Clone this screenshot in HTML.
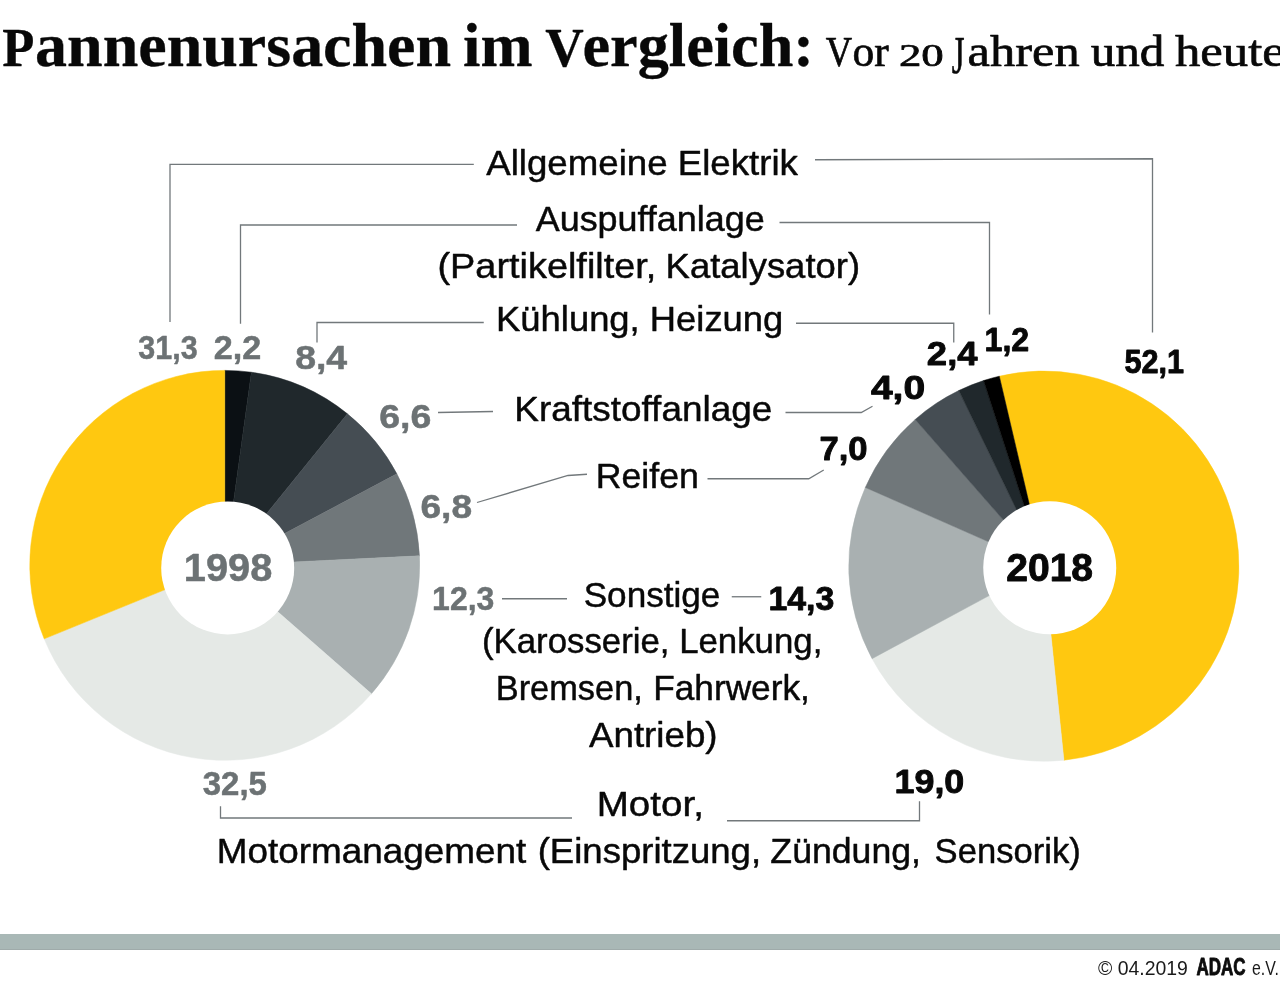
<!DOCTYPE html>
<html lang="de">
<head>
<meta charset="utf-8">
<title>Pannenursachen im Vergleich</title>
<style>
html,body{margin:0;padding:0;background:#fff;}
body{width:1280px;height:988px;overflow:hidden;font-family:"Liberation Sans",sans-serif;}
svg{display:block;will-change:transform;}
.ss{font-family:"Liberation Sans",sans-serif;}
.sf{font-family:"Liberation Serif",serif;}
text{white-space:pre;}
</style>
</head>
<body>
<svg width="1280" height="988" viewBox="0 0 1280 988">
<rect x="0" y="0" width="1280" height="988" fill="#ffffff"/>
<!-- footer bar -->
<rect x="0" y="934" width="1280" height="16" fill="#a9b8b6"/>
<rect x="0" y="949" width="1280" height="1" fill="#9fabaa"/>
<!-- donut 1998 -->
<g>
<path d="M224.75,565.35 L224.75,370.40 A194.95,194.95 0 0 1 251.38,372.23 Z" fill="#0b1014" stroke="#0b1014" stroke-width="0.5"/>
<path d="M224.75,565.35 L251.38,372.23 A194.95,194.95 0 0 1 347.44,413.85 Z" fill="#20282c" stroke="#20282c" stroke-width="0.5"/>
<path d="M224.75,565.35 L347.44,413.85 A194.95,194.95 0 0 1 396.88,473.83 Z" fill="#454d53" stroke="#454d53" stroke-width="0.5"/>
<path d="M224.75,565.35 L396.88,473.83 A194.95,194.95 0 0 1 419.47,555.83 Z" fill="#70777a" stroke="#70777a" stroke-width="0.5"/>
<path d="M224.75,565.35 L419.47,555.83 A194.95,194.95 0 0 1 371.43,693.76 Z" fill="#a9b0b1" stroke="#a9b0b1" stroke-width="0.5"/>
<path d="M224.75,565.35 L371.43,693.76 A194.95,194.95 0 0 1 44.19,638.85 Z" fill="#e5e9e6" stroke="#e5e9e6" stroke-width="0.5"/>
<path d="M224.75,565.35 L44.19,638.85 A194.95,194.95 0 0 1 224.75,370.40 Z" fill="#ffc810" stroke="#ffc810" stroke-width="0.5"/>
<circle cx="227.7" cy="567.9" r="66.5" fill="#fff"/>
</g>
<!-- donut 2018 -->
<g>
<path d="M1043.85,566.15 L999.30,376.20 A195.10,195.10 0 1 1 1063.90,760.22 Z" fill="#ffc810" stroke="#ffc810" stroke-width="0.5"/>
<path d="M1043.85,566.15 L1063.90,760.22 A195.10,195.10 0 0 1 872.07,658.64 Z" fill="#e5e9e6" stroke="#e5e9e6" stroke-width="0.5"/>
<path d="M1043.85,566.15 L872.07,658.64 A195.10,195.10 0 0 1 865.34,487.42 Z" fill="#a9b0b1" stroke="#a9b0b1" stroke-width="0.5"/>
<path d="M1043.85,566.15 L865.34,487.42 A195.10,195.10 0 0 1 915.21,419.47 Z" fill="#70777a" stroke="#70777a" stroke-width="0.5"/>
<path d="M1043.85,566.15 L915.21,419.47 A195.10,195.10 0 0 1 958.78,390.57 Z" fill="#454d53" stroke="#454d53" stroke-width="0.5"/>
<path d="M1043.85,566.15 L958.78,390.57 A195.10,195.10 0 0 1 983.56,380.60 Z" fill="#20282c" stroke="#20282c" stroke-width="0.5"/>
<path d="M1043.85,566.15 L983.56,380.60 A195.10,195.10 0 0 1 999.30,376.20 Z" fill="#000000" stroke="#000000" stroke-width="0.5"/>
<circle cx="1049.75" cy="567.75" r="66.5" fill="#fff"/>
</g>
<!-- connector lines -->
<g fill="none" stroke="#72787b" stroke-width="1.3">
<path d="M170,322 V164.3 H473.8"/>
<path d="M240.5,323.7 V225 H517"/>
<path d="M317,342.5 V322.5 H483.75"/>
<path d="M815,159.75 L1152.5,158.75 V332.5"/>
<path d="M779.5,222.5 H989.5 V314.5"/>
<path d="M796,323.25 H953.75 V342.5"/>
<path d="M438,412.5 L493,411.5"/>
<path d="M785.5,412.5 H861.25 L872.5,406.25"/>
<path d="M477,502.5 L568,475.5 L587,474.25"/>
<path d="M707.5,478.75 H808.75 L823.75,470"/>
<path d="M502,598.75 H567"/>
<path d="M731.75,596.75 H761.25"/>
<path d="M220.5,806.25 V818 H572"/>
<path d="M727,820.75 H919.5 V801.25"/>
</g>
<!-- texts -->
<g>
<text class="sf" x="2.15" y="66.00" font-size="55.8" font-weight="bold" fill="#080808" textLength="32.12" lengthAdjust="spacingAndGlyphs" stroke="#080808" stroke-width="0.3" stroke-linejoin="round">P</text>
<text class="sf" x="35.10" y="66.00" font-size="60.8" font-weight="bold" fill="#080808" textLength="416.01" lengthAdjust="spacingAndGlyphs" stroke="#080808" stroke-width="0.3" stroke-linejoin="round">annenursachen</text>
<text class="sf" x="463.02" y="66.00" font-size="60.8" font-weight="bold" fill="#080808" textLength="69.49" lengthAdjust="spacingAndGlyphs" stroke="#080808" stroke-width="0.3" stroke-linejoin="round">im</text>
<text class="sf" x="545.15" y="66.00" font-size="55.8" font-weight="bold" fill="#080808" textLength="38.48" lengthAdjust="spacingAndGlyphs" stroke="#080808" stroke-width="0.3" stroke-linejoin="round">V</text>
<text class="sf" x="582.40" y="66.00" font-size="60.8" font-weight="bold" fill="#080808" textLength="231.72" lengthAdjust="spacingAndGlyphs" stroke="#080808" stroke-width="0.3" stroke-linejoin="round">ergleich:</text>
<text class="sf" x="825.75" y="66.20" font-size="42.0" fill="#080808" textLength="26.39" lengthAdjust="spacingAndGlyphs" stroke="#080808" stroke-width="0.7" stroke-linejoin="round">V</text>
<text class="sf" x="852.48" y="66.20" font-size="45.0" fill="#080808" textLength="36.25" lengthAdjust="spacingAndGlyphs" stroke="#080808" stroke-width="0.7" stroke-linejoin="round">or</text>
<text class="sf" x="898.95" y="66.20" font-size="31.9" fill="#080808" textLength="44.78" lengthAdjust="spacingAndGlyphs" stroke="#080808" stroke-width="0.7" stroke-linejoin="round">20</text>
<text class="sf" x="951.72" y="72.90" font-size="52.0" fill="#080808" textLength="12.78" lengthAdjust="spacingAndGlyphs" stroke="#080808" stroke-width="0.7" stroke-linejoin="round">J</text>
<text class="sf" x="967.63" y="66.20" font-size="45.0" fill="#080808" textLength="111.98" lengthAdjust="spacingAndGlyphs" stroke="#080808" stroke-width="0.7" stroke-linejoin="round">ahren</text>
<text class="sf" x="1090.65" y="66.20" font-size="45.0" fill="#080808" textLength="73.65" lengthAdjust="spacingAndGlyphs" stroke="#080808" stroke-width="0.7" stroke-linejoin="round">und</text>
<text class="sf" x="1174.95" y="66.20" font-size="45.0" fill="#080808" textLength="109.80" lengthAdjust="spacingAndGlyphs" stroke="#080808" stroke-width="0.7" stroke-linejoin="round">heute</text>
<text class="ss" x="486.23" y="175.00" font-size="34.4" fill="#080808" textLength="311.69" lengthAdjust="spacingAndGlyphs" stroke="#080808" stroke-width="0.45" stroke-linejoin="round">Allgemeine Elektrik</text>
<text class="ss" x="535.73" y="231.25" font-size="34.4" fill="#080808" textLength="228.98" lengthAdjust="spacingAndGlyphs" stroke="#080808" stroke-width="0.45" stroke-linejoin="round">Auspuffanlage</text>
<text class="ss" x="437.52" y="277.50" font-size="34.4" fill="#080808" textLength="218.81" lengthAdjust="spacingAndGlyphs" stroke="#080808" stroke-width="0.45" stroke-linejoin="round">(Partikelfilter,</text>
<text class="ss" x="665.61" y="277.50" font-size="34.4" fill="#080808" textLength="194.46" lengthAdjust="spacingAndGlyphs" stroke="#080808" stroke-width="0.45" stroke-linejoin="round">Katalysator)</text>
<text class="ss" x="496.11" y="331.25" font-size="34.4" fill="#080808" textLength="287.16" lengthAdjust="spacingAndGlyphs" stroke="#080808" stroke-width="0.45" stroke-linejoin="round">Kühlung, Heizung</text>
<text class="ss" x="514.33" y="420.75" font-size="34.4" fill="#080808" textLength="257.91" lengthAdjust="spacingAndGlyphs" stroke="#080808" stroke-width="0.45" stroke-linejoin="round">Kraftstoffanlage</text>
<text class="ss" x="595.65" y="488.25" font-size="34.4" fill="#080808" textLength="103.34" lengthAdjust="spacingAndGlyphs" stroke="#080808" stroke-width="0.45" stroke-linejoin="round">Reifen</text>
<text class="ss" x="583.70" y="607.00" font-size="34.4" fill="#080808" textLength="136.72" lengthAdjust="spacingAndGlyphs" stroke="#080808" stroke-width="0.45" stroke-linejoin="round">Sonstige</text>
<text class="ss" x="481.95" y="653.00" font-size="34.4" fill="#080808" textLength="340.41" lengthAdjust="spacingAndGlyphs" stroke="#080808" stroke-width="0.45" stroke-linejoin="round">(Karosserie, Lenkung,</text>
<text class="ss" x="495.73" y="700.00" font-size="34.4" fill="#080808" textLength="147.10" lengthAdjust="spacingAndGlyphs" stroke="#080808" stroke-width="0.45" stroke-linejoin="round">Bremsen,</text>
<text class="ss" x="653.17" y="700.00" font-size="34.4" fill="#080808" textLength="156.72" lengthAdjust="spacingAndGlyphs" stroke="#080808" stroke-width="0.45" stroke-linejoin="round">Fahrwerk,</text>
<text class="ss" x="588.98" y="747.00" font-size="34.4" fill="#080808" textLength="128.60" lengthAdjust="spacingAndGlyphs" stroke="#080808" stroke-width="0.45" stroke-linejoin="round">Antrieb)</text>
<text class="ss" x="596.73" y="815.75" font-size="34.4" fill="#080808" textLength="107.16" lengthAdjust="spacingAndGlyphs" stroke="#080808" stroke-width="0.45" stroke-linejoin="round">Motor,</text>
<text class="ss" x="216.78" y="862.50" font-size="34.4" fill="#080808" textLength="309.52" lengthAdjust="spacingAndGlyphs" stroke="#080808" stroke-width="0.45" stroke-linejoin="round">Motormanagement</text>
<text class="ss" x="537.70" y="862.50" font-size="34.4" fill="#080808" textLength="223.39" lengthAdjust="spacingAndGlyphs" stroke="#080808" stroke-width="0.45" stroke-linejoin="round">(Einspritzung,</text>
<text class="ss" x="770.39" y="862.50" font-size="34.4" fill="#080808" textLength="150.53" lengthAdjust="spacingAndGlyphs" stroke="#080808" stroke-width="0.45" stroke-linejoin="round">Zündung,</text>
<text class="ss" x="934.62" y="862.50" font-size="34.4" fill="#080808" textLength="146.12" lengthAdjust="spacingAndGlyphs" stroke="#080808" stroke-width="0.45" stroke-linejoin="round">Sensorik)</text>
<text class="ss" x="138.25" y="358.75" font-size="34.1" font-weight="bold" fill="#6c7274" textLength="59.35" lengthAdjust="spacingAndGlyphs" stroke="#6c7274" stroke-width="0.5" stroke-linejoin="round">31,3</text>
<text class="ss" x="213.75" y="358.75" font-size="34.1" font-weight="bold" fill="#6c7274" textLength="47.46" lengthAdjust="spacingAndGlyphs" stroke="#6c7274" stroke-width="0.5" stroke-linejoin="round">2,2</text>
<text class="ss" x="295.15" y="368.75" font-size="34.1" font-weight="bold" fill="#6c7274" textLength="52.05" lengthAdjust="spacingAndGlyphs" stroke="#6c7274" stroke-width="0.5" stroke-linejoin="round">8,4</text>
<text class="ss" x="379.15" y="428.25" font-size="34.1" font-weight="bold" fill="#6c7274" textLength="52.15" lengthAdjust="spacingAndGlyphs" stroke="#6c7274" stroke-width="0.5" stroke-linejoin="round">6,6</text>
<text class="ss" x="420.41" y="517.50" font-size="34.1" font-weight="bold" fill="#6c7274" textLength="51.63" lengthAdjust="spacingAndGlyphs" stroke="#6c7274" stroke-width="0.5" stroke-linejoin="round">6,8</text>
<text class="ss" x="432.12" y="610.10" font-size="34.1" font-weight="bold" fill="#6c7274" textLength="62.27" lengthAdjust="spacingAndGlyphs" stroke="#6c7274" stroke-width="0.5" stroke-linejoin="round">12,3</text>
<text class="ss" x="202.75" y="794.50" font-size="34.1" font-weight="bold" fill="#6c7274" textLength="64.17" lengthAdjust="spacingAndGlyphs" stroke="#6c7274" stroke-width="0.5" stroke-linejoin="round">32,5</text>
<text class="ss" x="183.79" y="580.65" font-size="38.6" font-weight="bold" fill="#6c7274" textLength="88.53" lengthAdjust="spacingAndGlyphs" stroke="#6c7274" stroke-width="0.5" stroke-linejoin="round">1998</text>
<text class="ss" x="984.57" y="350.50" font-size="34.1" font-weight="bold" fill="#080808" textLength="44.63" lengthAdjust="spacingAndGlyphs" stroke="#080808" stroke-width="0.9" stroke-linejoin="round">1,2</text>
<text class="ss" x="926.88" y="365.00" font-size="34.1" font-weight="bold" fill="#080808" textLength="50.62" lengthAdjust="spacingAndGlyphs" stroke="#080808" stroke-width="0.9" stroke-linejoin="round">2,4</text>
<text class="ss" x="1124.55" y="372.50" font-size="34.1" font-weight="bold" fill="#080808" textLength="59.60" lengthAdjust="spacingAndGlyphs" stroke="#080808" stroke-width="0.9" stroke-linejoin="round">52,1</text>
<text class="ss" x="870.95" y="398.75" font-size="34.1" font-weight="bold" fill="#080808" textLength="54.19" lengthAdjust="spacingAndGlyphs" stroke="#080808" stroke-width="0.9" stroke-linejoin="round">4,0</text>
<text class="ss" x="819.44" y="460.00" font-size="34.1" font-weight="bold" fill="#080808" textLength="48.08" lengthAdjust="spacingAndGlyphs" stroke="#080808" stroke-width="0.9" stroke-linejoin="round">7,0</text>
<text class="ss" x="768.47" y="610.10" font-size="34.1" font-weight="bold" fill="#080808" textLength="65.78" lengthAdjust="spacingAndGlyphs" stroke="#080808" stroke-width="0.9" stroke-linejoin="round">14,3</text>
<text class="ss" x="894.60" y="792.50" font-size="34.1" font-weight="bold" fill="#080808" textLength="69.70" lengthAdjust="spacingAndGlyphs" stroke="#080808" stroke-width="0.9" stroke-linejoin="round">19,0</text>
<text class="ss" x="1006.23" y="581.20" font-size="38.4" font-weight="bold" fill="#080808" textLength="86.87" lengthAdjust="spacingAndGlyphs" stroke="#080808" stroke-width="0.9" stroke-linejoin="round">2018</text>
<text class="ss" x="1098.00" y="975.00" font-size="20.6" fill="#1a1a1a" textLength="89.93" lengthAdjust="spacingAndGlyphs">© 04.2019</text>
<text class="ss" x="1196.45" y="975.00" font-size="23.5" font-weight="bold" fill="#0c0c0c" textLength="49.08" lengthAdjust="spacingAndGlyphs" stroke="#0c0c0c" stroke-width="0.9" stroke-linejoin="round">ADAC</text>
<text class="ss" x="1252.00" y="975.00" font-size="20.6" fill="#1a1a1a" textLength="26.83" lengthAdjust="spacingAndGlyphs">e.V.</text>
</g>
</svg>
</body>
</html>
